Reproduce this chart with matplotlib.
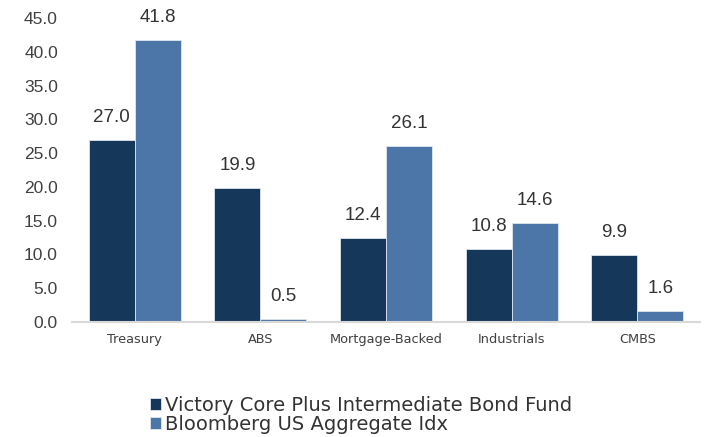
import matplotlib
matplotlib.use("Agg")
import matplotlib.pyplot as plt
import numpy as np

categories = ["Treasury", "ABS", "Mortgage-Backed", "Industrials", "CMBS"]
fund_values = [27.0, 19.9, 12.4, 10.8, 9.9]
index_values = [41.8, 0.5, 26.1, 14.6, 1.6]
series_names = ["Victory Core Plus Intermediate Bond Fund", "Bloomberg US Aggregate Idx"]
yticks = [0, 5, 10, 15, 20, 25, 30, 35, 40, 45]

plt.rcParams["font.family"] = ["Liberation Sans", "DejaVu Sans"]

fig = plt.figure(figsize=(7.11, 4.37), dpi=100)
ax = fig.add_axes([0.101, 0.263, 0.884, 0.696])

x = np.arange(len(categories))
width = 0.366
dark = "#15375a"
light = "#4b76a7"

b1 = ax.bar(x - width / 2, fund_values, width, color=dark, edgecolor="#dfe6ee", linewidth=0.6, label=series_names[0])
b2 = ax.bar(x + width / 2, index_values, width, color=light, edgecolor="#dfe6ee", linewidth=0.6, label=series_names[1])

# value labels over each bar
for bars, vals in ((b1, fund_values), (b2, index_values)):
    for rect, v in zip(bars, vals):
        ax.annotate("%.1f" % v, (rect.get_x() + rect.get_width() / 2, v),
                    xytext=(0, 10), textcoords="offset points",
                    ha="center", va="bottom", fontsize=13.5, color="#333333")

ax.set_xlim(-0.5, len(categories) - 0.5)
ax.set_ylim(0, 45)
ax.set_yticks(yticks)
ax.set_yticklabels(["%.1f" % t for t in yticks], fontsize=12.5, color="#404040")
ax.set_xticks(x)
ax.set_xticklabels(categories, fontsize=9.3, color="#404040", family="DejaVu Sans")
ax.tick_params(axis="both", length=0)
ax.tick_params(axis="x", pad=8)
ax.tick_params(axis="y", pad=10)

for side in ["top", "right", "left"]:
    ax.spines[side].set_visible(False)
ax.spines["bottom"].set_color("#d9d9d9")
ax.spines["bottom"].set_linewidth(1.5)

fig.legend(handles=[b1, b2], loc="upper left", bbox_to_anchor=(0.197, 0.117), frameon=False,
           prop={"family": "DejaVu Sans", "size": 14}, handlelength=0.6, handleheight=0.6,
           handletextpad=0.2, labelspacing=0.0, borderpad=0, labelcolor="#333333")

fig.savefig("out.png", dpi=100)
